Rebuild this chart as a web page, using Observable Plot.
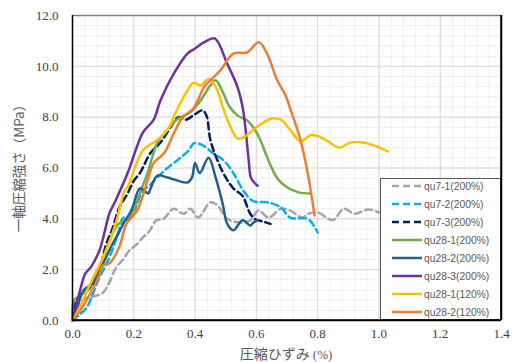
<!DOCTYPE html>
<html><head><meta charset="utf-8">
<script src="https://cdn.jsdelivr.net/npm/d3@7"></script>
<script src="https://cdn.jsdelivr.net/npm/@observablehq/plot@0.6"></script>
<style>body{margin:0;background:#fff}</style>
</head><body><div id="chart"></div>
<script>
const xTicks = [0, 0.2, 0.4, 0.6, 0.8, 1.0, 1.2, 1.4];
const yTicks = [0, 2, 4, 6, 8, 10, 12];
const seriesNames = ["qu7-1(200%)","qu7-2(200%)","qu7-3(200%)","qu28-1(200%)","qu28-2(200%)","qu28-3(200%)","qu28-1(120%)","qu28-2(120%)"];
const seriesColors = ["#a5a5a5","#00b0f0","#002060","#70ad47","#255e91","#7030a0","#ffc000","#ed7d31"];
const seriesDash = ["7,4","7,4","7,4",null,null,null,null,null];

const qu7_1 = [[0,0],[0.02,0.6],[0.046,0.9],[0.07,0.95],[0.10,1.1],[0.12,1.5],[0.143,2.1],[0.165,2.4],[0.186,2.76],[0.21,3.0],[0.23,3.27],[0.25,3.5],[0.274,3.94],[0.297,4.0],[0.33,4.4],[0.362,4.2],[0.385,4.4],[0.41,4.05],[0.45,4.65],[0.473,4.53],[0.505,4.0],[0.548,3.86],[0.58,3.94],[0.607,4.33],[0.64,4.05],[0.68,4.4],[0.71,4.33],[0.75,4.05],[0.77,4.2],[0.80,4.25],[0.85,3.95],[0.885,4.4],[0.92,4.2],[0.966,4.37],[1.0,4.25]];
const qu7_2 = [[0,0],[0.02,0.2],[0.046,0.5],[0.065,1.0],[0.088,1.7],[0.11,2.2],[0.134,2.9],[0.15,3.5],[0.166,4.05],[0.18,3.94],[0.2,4.3],[0.23,5.1],[0.25,5.3],[0.277,5.63],[0.31,6.0],[0.352,6.4],[0.38,6.7],[0.395,6.97],[0.424,6.9],[0.46,6.57],[0.493,6.3],[0.525,5.8],[0.558,5.1],[0.59,4.7],[0.636,4.65],[0.68,4.45],[0.71,4.05],[0.767,4.0],[0.787,3.74],[0.80,3.46]];
const qu7_3 = [[0,0],[0.01,0.7],[0.025,1.0],[0.05,1.2],[0.07,1.5],[0.09,2.1],[0.11,3.0],[0.13,3.6],[0.153,4.45],[0.18,5.0],[0.2,5.5],[0.22,5.8],[0.255,6.6],[0.287,7.0],[0.32,7.6],[0.346,8.0],[0.37,7.9],[0.395,8.07],[0.424,8.27],[0.437,8.07],[0.45,7.1],[0.473,6.3],[0.50,5.63],[0.525,5.2],[0.555,4.9],[0.58,4.2],[0.597,3.98],[0.62,3.9],[0.646,3.8]];
const qu28_1_200 = [[0,0],[0.005,0.8],[0.02,0.95],[0.046,1.18],[0.07,1.6],[0.088,2.1],[0.11,2.8],[0.134,3.5],[0.15,3.8],[0.166,3.9],[0.2,4.3],[0.21,4.7],[0.245,5.8],[0.277,7.0],[0.31,7.5],[0.34,7.9],[0.385,8.2],[0.418,8.66],[0.45,9.25],[0.467,9.45],[0.49,9.0],[0.51,8.46],[0.538,8.07],[0.57,7.87],[0.59,7.6],[0.613,7.1],[0.636,6.4],[0.668,5.6],[0.70,5.24],[0.738,5.04],[0.777,5.0]];
const qu28_2_200 = [[0,0],[0.015,0.5],[0.036,1.18],[0.06,1.4],[0.078,1.7],[0.11,2.5],[0.13,3.0],[0.153,3.5],[0.17,3.9],[0.186,4.2],[0.196,4.45],[0.22,5.2],[0.24,5.05],[0.248,5.0],[0.255,5.2],[0.277,5.7],[0.31,5.63],[0.375,5.43],[0.39,5.63],[0.40,6.2],[0.415,5.8],[0.444,6.4],[0.467,5.63],[0.49,4.6],[0.505,3.8],[0.525,3.55],[0.555,3.94],[0.58,3.74],[0.59,3.85],[0.603,3.94]];
const qu28_3_200 = [[0,0],[0.01,0.5],[0.025,1.2],[0.042,1.85],[0.06,2.1],[0.088,2.76],[0.105,3.5],[0.12,4.2],[0.14,4.7],[0.18,5.8],[0.23,7.4],[0.265,7.9],[0.287,8.66],[0.33,9.7],[0.375,10.5],[0.40,10.7],[0.43,10.95],[0.464,11.1],[0.505,10.1],[0.538,9.2],[0.555,8.4],[0.565,7.5],[0.575,6.3],[0.583,5.6],[0.604,5.3]];
const qu28_1_120 = [[0,0],[0.023,0.5],[0.045,1.1],[0.068,1.7],[0.11,2.75],[0.143,3.9],[0.17,5.1],[0.18,5.25],[0.23,6.7],[0.277,7.1],[0.31,7.5],[0.34,8.27],[0.375,9.05],[0.395,9.35],[0.418,9.25],[0.444,9.5],[0.467,9.2],[0.494,8.27],[0.52,7.5],[0.54,7.15],[0.57,7.3],[0.60,7.6],[0.65,7.95],[0.68,7.9],[0.71,7.5],[0.744,7.05],[0.78,7.3],[0.82,7.15],[0.87,6.8],[0.907,7.0],[0.96,6.97],[1.03,6.65]];
const qu28_2_120 = [[0,0],[0.02,0.3],[0.046,0.8],[0.085,1.7],[0.10,2.17],[0.12,2.24],[0.153,2.9],[0.176,3.8],[0.21,4.3],[0.245,5.5],[0.265,6.2],[0.30,6.6],[0.33,7.35],[0.36,8.0],[0.395,8.35],[0.43,9.2],[0.45,9.45],[0.483,9.85],[0.525,10.5],[0.57,10.55],[0.608,10.95],[0.635,10.5],[0.668,9.45],[0.695,8.86],[0.71,8.35],[0.744,7.1],[0.766,5.9],[0.79,4.13]];

const seriesData = [qu7_1, qu7_2, qu7_3, qu28_1_200, qu28_2_200, qu28_3_200, qu28_1_120, qu28_2_120];

const minorX = d3.range(0, 36).map(i => +(i * 0.04).toFixed(2));
const minorY = d3.range(0, 31).map(i => +(i * 0.4).toFixed(1));

const lineMarks = seriesData.map((data, i) => Plot.line(data, {
  x: d => d[0], y: d => d[1], stroke: seriesColors[i], strokeWidth: 2.5,
  strokeDasharray: seriesDash[i] || undefined, curve: "catmull-rom"
}));

const chart = Plot.plot({
  width: 516, height: 362,
  marginLeft: 72, marginRight: 15, marginTop: 15, marginBottom: 42,
  x: {domain: [0, 1.4]},
  y: {domain: [0, 12]},
  style: {background: "#fff"},
  marks: [
    Plot.ruleX(minorX, {stroke: "#efefef", strokeWidth: 1}),
    Plot.ruleY(minorY, {stroke: "#efefef", strokeWidth: 1}),
    Plot.ruleX(xTicks, {stroke: "#d9d9d9", strokeWidth: 1}),
    Plot.ruleY(yTicks, {stroke: "#d9d9d9", strokeWidth: 1}),
    ...lineMarks,
    Plot.ruleY([12], {stroke: "#7f7f7f", strokeWidth: 1.5}),
    Plot.ruleX([1.4], {stroke: "#000", strokeWidth: 1.5}),
    Plot.ruleX([0], {stroke: "#000", strokeWidth: 1.5}),
    Plot.ruleY([0], {stroke: "#000", strokeWidth: 1.5}),
    Plot.axisX(xTicks, {tickSize: 0, tickPadding: 8, tickFormat: d => d.toFixed(1), fontFamily: "Liberation Serif", fontSize: 13, fill: "#404040", label: null}),
    Plot.axisY(yTicks, {tickSize: 0, tickPadding: 14, tickFormat: d => d.toFixed(1), fontFamily: "Liberation Serif", fontSize: 13, fill: "#404040", label: null})
  ]
});
document.getElementById("chart").appendChild(chart);

const svg = d3.select(chart);
// legend
const lg = svg.append("g");
lg.append("rect").attr("x", 380.5).attr("y", 178.5).attr("width", 120).attr("height", 141)
  .attr("fill", "#fff").attr("stroke", "#595959").attr("stroke-width", 1);
seriesNames.forEach((name, i) => {
  const y = 186 + i * 18;
  lg.append("line").attr("x1", 392).attr("x2", 422).attr("y1", y).attr("y2", y)
    .attr("stroke", seriesColors[i]).attr("stroke-width", 2.5)
    .attr("stroke-dasharray", seriesDash[i] || null);
  lg.append("text").attr("x", 424).attr("y", y).attr("dy", "0.35em")
    .attr("text-anchor", "start")
    .attr("font-family", "Liberation Sans, Arial, sans-serif").attr("font-size", 10.3)
    .attr("fill", "#595959").text(name);
});
lg.append("line").attr("x1", 501).attr("x2", 501).attr("y1", 15).attr("y2", 320).attr("stroke", "#000").attr("stroke-width", 1.5);
lg.append("line").attr("x1", 72).attr("x2", 501).attr("y1", 320).attr("y2", 320).attr("stroke", "#000").attr("stroke-width", 1.5);

// axis titles
svg.append("text").attr("transform", "translate(24,165) rotate(-90)")
  .attr("text-anchor", "middle").attr("font-family", "Noto Sans CJK JP")
  .attr("font-size", 13.5).attr("fill", "#595959").text("一軸圧縮強さ（MPa）");
const xt = svg.append("text").attr("x", 286).attr("y", 359).attr("text-anchor", "middle")
  .attr("font-family", "Noto Sans CJK JP").attr("font-size", 14).attr("fill", "#595959");
xt.append("tspan").text("圧縮ひずみ ");
xt.append("tspan").attr("font-family", "Liberation Serif").attr("font-size", 13).text("(%)");
</script></body></html>
